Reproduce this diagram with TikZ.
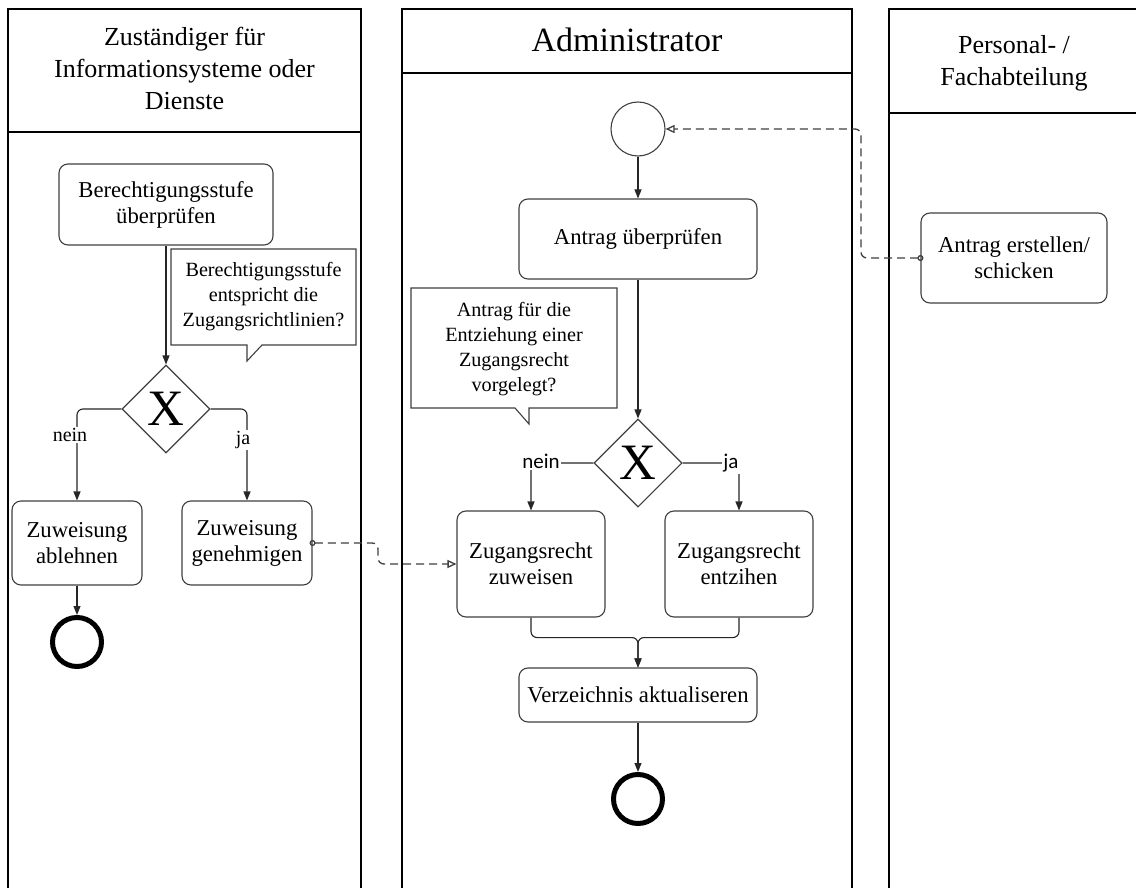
\documentclass[tikz,border=0pt]{standalone}
\usepackage{fontspec}
\setmainfont{Liberation Serif}
\newfontfamily\labfont{Carlito}
\usetikzlibrary{shapes.geometric,arrows.meta}

\tikzset{
  lane/.style={draw=black, line width=1.4pt},
  hdr/.style={align=center, inner sep=0pt, font=\fontsize{26}{32}\selectfont},
  task/.style={draw=black!75, line width=1.1pt, rounded corners=9pt, fill=white,
    align=center, inner sep=0pt, font=\fontsize{22.7}{26}\selectfont},
  gate/.style={diamond, draw=black!75, line width=1.1pt, fill=white,
    minimum width=88pt, minimum height=88pt, inner sep=0pt,
    font=\fontsize{51}{51}\selectfont},
  startev/.style={circle, draw=black!75, line width=1.1pt, fill=white,
    minimum size=54pt, inner sep=0pt},
  endev/.style={circle, draw=black, line width=5pt, fill=white,
    minimum size=49pt, inner sep=0pt},
  flow/.style={draw=black!85, line width=1.1pt, rounded corners=6pt,
    -{Triangle[length=9pt,width=7pt]}},
  msg/.style={draw=black!75, line width=1.3pt, dash pattern=on 8pt off 5pt,
    rounded corners=6pt, shorten <=-3pt,
    {Circle[open,length=6pt,width=6pt]}-{Triangle[open,length=9pt,width=8pt]}},
  callout/.style={draw=black!75, line width=1.1pt, fill=white},
  notetext/.style={align=center, inner sep=0pt, font=\fontsize{20.2}{25}\selectfont},
  lblserif/.style={fill=white, inner sep=1.5pt, font=\fontsize{20}{20}\selectfont},
  lblsans/.style={fill=white, inner sep=1.5pt, font=\labfont\fontsize{21}{21}\selectfont},
}

\begin{document}
\begin{tikzpicture}[x=1pt, y=-1pt]
  \useasboundingbox (0,0) rectangle (1136,888);
  \fill[white] (0,0) rectangle (1136,888);

  % swimlanes
  \draw[lane] (8,900) |- (361,9) -- (361,900);
  \draw[lane] (8,132) -- (361,132);
  \draw[lane] (402,900) |- (852,9) -- (852,900);
  \draw[lane] (402,73) -- (852,73);
  \draw[lane] (889,900) |- (1140,9);
  \draw[lane] (889,113) -- (1140,113);

  \node[hdr] (hdrL) at (184.5,68.5) {Zuständiger für\\Informationsysteme oder\\Dienste};
  \node[hdr, font=\fontsize{34}{40}\selectfont] (hdrC) at (627,40) {Administrator};
  \node[hdr] (hdrR) at (1014,63) {Personal- /\\Fachabteilung};

  % left lane
  \node[task, minimum width=214pt, minimum height=81pt] (checkL) at (166,204.5)
    {Berechtigungsstufe\\überprüfen};
  \draw[callout] (171,249) -- (356,249) -- (356,345) -- (262,345) -- (247,361)
    -- (247,345) -- (171,345) -- cycle;
  \node[notetext] (noteL) at (263.5,297)
    {Berechtigungsstufe\\entspricht die\\Zugangsrichtlinien?};
  \node[gate] (gwL) at (166,409) {X};
  \node[task, minimum width=130pt, minimum height=84pt] (rejectL) at (77,543)
    {Zuweisung\\ablehnen};
  \node[task, minimum width=130pt, minimum height=84pt] (approveL) at (247,543)
    {Zuweisung\\genehmigen};
  \node[endev] (endL) at (77,642) {};

  \draw[flow] (checkL.south) -- (gwL.north);
  \draw[flow] (gwL.west) -| (rejectL.north);
  \draw[flow] (gwL.east) -| (approveL.north);
  \draw[flow] (rejectL.south) -- (endL.north);
  \node[lblserif] (neinL) at (70,435) {nein};
  \node[lblserif] (jaL) at (243,440) {ja};

  % centre lane
  \node[startev] (startC) at (638,129) {};
  \node[task, minimum width=238pt, minimum height=80pt] (checkC) at (638,239)
    {Antrag überprüfen};
  \draw[callout] (411,288) -- (617,288) -- (617,408) -- (529,408) -- (529,424)
    -- (515,408) -- (411,408) -- cycle;
  \node[notetext] (noteC) at (514,349)
    {Antrag für die\\Entziehung einer\\Zugangsrecht\\vorgelegt?};
  \node[gate] (gwC) at (638,463) {X};
  \node[task, minimum width=148pt, minimum height=106pt] (grantC) at (531,564)
    {Zugangsrecht\\zuweisen};
  \node[task, minimum width=148pt, minimum height=106pt] (revokeC) at (739,564)
    {Zugangsrecht\\entzihen};
  \node[task, minimum width=238pt, minimum height=54pt] (updateC) at (638,695)
    {Verzeichnis aktualiseren};
  \node[endev] (endC) at (638,799) {};

  \draw[flow] (startC.south) -- (checkC.north);
  \draw[flow] (checkC.south) -- (gwC.north);
  \draw[flow] (gwC.west) -| (grantC.north);
  \draw[flow] (gwC.east) -| (revokeC.north);
  \draw[flow] (grantC.south) -- ++(0,20) -| (updateC.north);
  \draw[flow] (revokeC.south) -- ++(0,20) -| (updateC.north);
  \draw[flow] (updateC.south) -- (endC.north);
  \node[lblsans] (neinC) at (541,461) {nein};
  \node[lblsans] (jaC) at (731,463) {ja};

  % right lane
  \node[task, minimum width=186pt, minimum height=90pt] (createR) at (1014,258)
    {Antrag erstellen/\\schicken};

  % message flows
  \draw[msg] (approveL.east) -- (378,543) |- (grantC.west);
  \draw[msg] (createR.west) -- (861,258) |- (startC.east);
\end{tikzpicture}
\end{document}
